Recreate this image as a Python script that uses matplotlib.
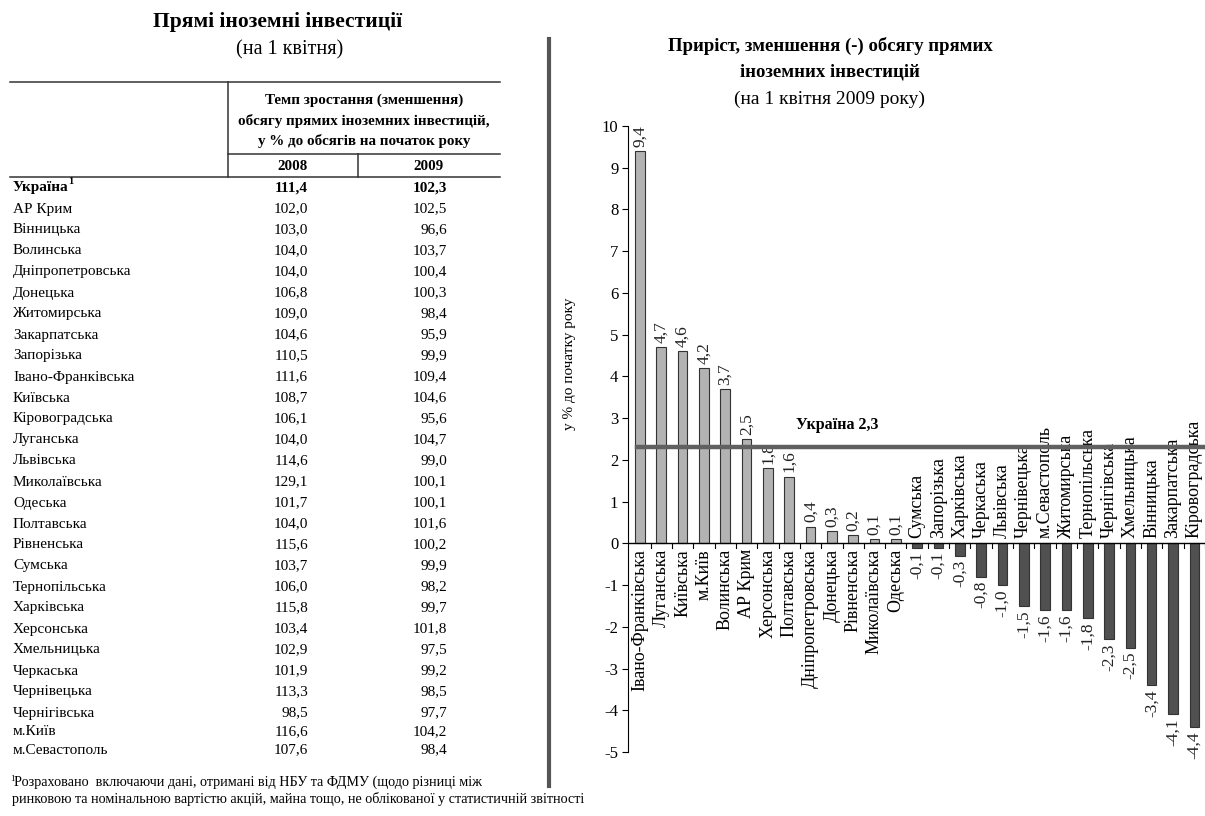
import matplotlib.pyplot as plt
from matplotlib.lines import Line2D

# ---- table data (index, % to start of year) ----
regions = ['Україна', 'АР Крим', 'Вінницька', 'Волинська', 'Дніпропетровська',
           'Донецька', 'Житомирська', 'Закарпатська', 'Запорізька',
           'Івано-Франківська', 'Київська', 'Кіровоградська', 'Луганська',
           'Львівська', 'Миколаївська', 'Одеська', 'Полтавська', 'Рівненська',
           'Сумська', 'Тернопільська', 'Харківська', 'Херсонська',
           'Хмельницька', 'Черкаська', 'Чернівецька', 'Чернігівська',
           'м.Київ', 'м.Севастополь']
v2008 = [111.4, 102.0, 103.0, 104.0, 104.0, 106.8, 109.0, 104.6, 110.5, 111.6,
         108.7, 106.1, 104.0, 114.6, 129.1, 101.7, 104.0, 115.6, 103.7, 106.0,
         115.8, 103.4, 102.9, 101.9, 113.3, 98.5, 116.6, 107.6]
v2009 = [102.3, 102.5, 96.6, 103.7, 100.4, 100.3, 98.4, 95.9, 99.9, 109.4,
         104.6, 95.6, 104.7, 99.0, 100.1, 100.1, 101.6, 100.2, 99.9, 98.2,
         99.7, 101.8, 97.5, 99.2, 98.5, 97.7, 104.2, 98.4]
years = ['2008', '2009']

# ---- bar chart data (growth, %) ----
bar_labels = ['Івано-Франківська', 'Луганська', 'Київська', 'м.Київ', 'Волинська',
              'АР Крим', 'Херсонська', 'Полтавська', 'Дніпропетровська',
              'Донецька', 'Рівненська', 'Миколаївська', 'Одеська', 'Сумська',
              'Запорізька', 'Харківська', 'Черкаська', 'Львівська',
              'Чернівецька', 'м.Севастополь', 'Житомирська', 'Тернопільська',
              'Чернігівська', 'Хмельницька', 'Вінницька', 'Закарпатська',
              'Кіровоградська']
bar_values = [9.4, 4.7, 4.6, 4.2, 3.7, 2.5, 1.8, 1.6, 0.4, 0.3, 0.2, 0.1, 0.1,
              -0.1, -0.1, -0.3, -0.8, -1.0, -1.5, -1.6, -1.6, -1.8, -2.3,
              -2.5, -3.4, -4.1, -4.4]
ukraine_value = 2.3

W, H = 1205, 816
plt.rcParams['font.family'] = ['Liberation Serif', 'DejaVu Serif']
plt.rcParams['axes.unicode_minus'] = False

fig = plt.figure(figsize=(W / 100, H / 100), dpi=100)


def px(x, y):
    return x / W, 1 - y / H


def ftext(x, y, s, **kw):
    fx, fy = px(x, y)
    fig.text(fx, fy, s, **kw)


def fline(xs, ys, **kw):
    fxs = [x / W for x in xs]
    fys = [1 - y / H for y in ys]
    fig.add_artist(Line2D(fxs, fys, transform=fig.transFigure, **kw))


def fmt(v):
    return f'{v:.1f}'.replace('.', ',')


# ---- left: table ----
ftext(278, 22, 'Прямі іноземні інвестиції', ha='center', va='center',
      fontsize=15.5, fontweight='bold')
ftext(290, 50, '(на 1 квітня)', ha='center', va='center', fontsize=14.5)

lc = '#333333'
fline([10, 500], [82, 82], color=lc, lw=1.1)
fline([228, 228], [82, 177], color=lc, lw=1.1)
fline([228, 500], [154, 154], color=lc, lw=1.1)
fline([358, 358], [154, 177], color=lc, lw=1.1)
fline([10, 500], [177, 177], color=lc, lw=1.1)

header = ['Темп зростання (зменшення)',
          'обсягу прямих іноземних інвестицій,',
          'у % до обсягів на початок року']
for k, h in enumerate(header):
    ftext(364, 100 + k * 20.5, h, ha='center', va='center', fontsize=10.8,
          fontweight='bold')
ftext(293, 166, years[0], ha='center', va='center', fontsize=10.8, fontweight='bold')
ftext(429, 166, years[1], ha='center', va='center', fontsize=10.8, fontweight='bold')

for i, name in enumerate(regions):
    if i <= 25:
        y = 188 + i * 21.0
    else:
        y = 713 + (i - 25) * 18.5
    bold = 'bold' if i == 0 else 'normal'
    ftext(13, y, name, ha='left', va='center', fontsize=11, fontweight=bold)
    ftext(308, y, fmt(v2008[i]), ha='right', va='center', fontsize=11, fontweight=bold)
    ftext(447, y, fmt(v2009[i]), ha='right', va='center', fontsize=11, fontweight=bold)
ftext(68, 182, '1', ha='left', va='center', fontsize=7.5, fontweight='bold')

ftext(10, 779, '1', ha='left', va='center', fontsize=6.5)
ftext(14, 782, 'Розраховано  включаючи дані, отримані від НБУ та ФДМУ (щодо різниці між',
      ha='left', va='center', fontsize=10.2)
ftext(12, 799, 'ринковою та номінальною вартістю акцій, майна тощо, не облікованої у статистичній звітності',
      ha='left', va='center', fontsize=10.2)

# separator
fline([549, 549], [39, 786], color='#555555', lw=3)

# ---- right: bar chart ----
ax = fig.add_axes([628 / W, 1 - 752 / H, (W - 628) / W, (752 - 126) / H])
ax.set_facecolor('none')
xs = list(range(len(bar_values)))
colors = ['#b3b3b3' if v >= 0 else '#505050' for v in bar_values]
ax.bar(xs, bar_values, width=0.45, color=colors, edgecolor='#333333', linewidth=0.8,
       zorder=2)

ax.set_xlim(-0.56, 26.5)
ax.set_ylim(-5, 10)
ax.set_yticks(range(-5, 11))
ax.tick_params(axis='y', direction='out', length=4, labelsize=12, pad=3)
ax.set_xticks([])
for s in ['top', 'right', 'bottom']:
    ax.spines[s].set_visible(False)
ax.axhline(0, color='black', lw=1, zorder=3)
for b in range(len(bar_values)):
    ax.plot([b + 0.5, b + 0.5], [0, -0.1], color='black', lw=0.8, clip_on=False)

for x, v, lab in zip(xs, bar_values, bar_labels):
    if v >= 0:
        ax.annotate(fmt(v), (x, v), xytext=(0, 3), textcoords='offset points',
                    rotation=90, ha='center', va='bottom', fontsize=12.5, color='#222222')
        ax.annotate(lab, (x, 0), xytext=(0, -4), textcoords='offset points',
                    rotation=90, ha='center', va='top', fontsize=13)
    else:
        ax.annotate(fmt(v), (x, v), xytext=(0, -3), textcoords='offset points',
                    rotation=90, ha='center', va='top', fontsize=12.5, color='#222222')
        ax.annotate(lab, (x, 0), xytext=(0, 4), textcoords='offset points',
                    rotation=90, ha='center', va='bottom', fontsize=13)

ax.plot([-0.15, 26.5], [ukraine_value, ukraine_value], color='#606060', lw=3.2,
        zorder=4, clip_on=False)
ax.text(7.3, 2.83, 'Україна ' + fmt(ukraine_value), ha='left', va='center',
        fontsize=11.5, fontweight='bold')

ax.set_ylabel('у % до початку року', fontsize=11)
ax.yaxis.set_label_coords(-0.09, 0.62)

ftext(830, 46, 'Приріст, зменшення (-) обсягу прямих', ha='center', va='center',
      fontsize=13.5, fontweight='bold')
ftext(830, 72, 'іноземних інвестицій', ha='center', va='center',
      fontsize=13.5, fontweight='bold')
ftext(830, 99, '(на 1 квітня 2009 року)', ha='center', va='center', fontsize=14)

fig.savefig('out.png', dpi=100)
